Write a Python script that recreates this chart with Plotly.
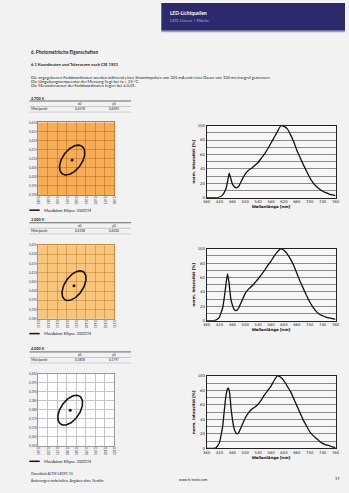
import numpy as np
import plotly.graph_objects as go

W, H = 349, 493

# ---------------- data ----------------
CCT_LABELS = ["2.700 K", "3.000 K", "4.000 K"]
X0_VALUES = [0.4578, 0.4338, 0.3818]
Y0_VALUES = [0.4093, 0.4030, 0.3797]
X_TICK_START = [0.440, 0.415, 0.365]
Y_TICK_START = [0.390, 0.385, 0.360]
TICK_STEP = 0.005
N_TICKS = 9
# MacAdam ellipse (3 SDCM) parameters: semi axes and rotation
ELLIPSE_A = [0.0092, 0.0090, 0.0092]
ELLIPSE_B = [0.0052, 0.0049, 0.0051]
ELLIPSE_THETA_DEG = [57, 58, 58]

WL_1 = [380, 400, 410, 420, 430, 440, 445, 450, 455, 460, 465, 470, 475, 480, 490,
        500, 510, 520, 530, 540, 550, 560, 570, 580, 590, 600, 610, 620, 630, 640,
        650, 660, 670, 680, 690, 700, 710, 720, 730, 740, 750, 760, 770, 780]
INT_1 = [0, 0, 0, 1, 4, 12, 22, 34, 27, 19, 16, 14, 14, 16, 25,
         33, 38, 41, 45, 49, 55, 61, 68, 76, 84, 92, 100, 99, 96, 88,
         78, 66, 56, 46, 37, 28, 21, 16, 12, 9, 7, 5, 4, 3]

WL_2 = [380, 400, 410, 420, 430, 435, 440, 445, 450, 455, 460, 465, 470, 475, 480,
        490, 500, 510, 520, 530, 540, 550, 560, 570, 580, 590, 600, 610, 620, 630,
        640, 650, 660, 670, 680, 690, 700, 710, 720, 730, 740, 750, 760, 770, 780]
INT_2 = [0, 0, 1, 5, 18, 32, 50, 65, 52, 31, 22, 16, 14, 15, 18,
         28, 38, 44, 48, 53, 58, 64, 70, 77, 83, 90, 96, 100, 98, 93,
         86, 77, 66, 55, 45, 35, 26, 19, 13, 9, 7, 5, 4, 3, 2]

WL_3 = [380, 400, 410, 420, 430, 435, 440, 445, 448, 452, 456, 460, 465, 470, 475,
        480, 490, 500, 510, 520, 530, 540, 550, 560, 570, 580, 590, 600, 610, 620,
        630, 640, 650, 660, 670, 680, 690, 700, 710, 720, 730, 740, 750, 760, 770, 780]
INT_3 = [0, 0, 1, 8, 30, 52, 72, 82, 83, 75, 55, 41, 28, 22, 20,
         22, 32, 42, 49, 54, 57, 61, 67, 74, 80, 86, 94, 100, 98, 93,
         86, 79, 69, 59, 49, 39, 31, 23, 18, 14, 10, 7, 5, 4, 2, 1]

SPEC_WL = [WL_1, WL_2, WL_3]
SPEC_INT = [INT_1, INT_2, INT_3]
SPEC_XTICKS = [380, 420, 460, 500, 540, 580, 620, 660, 700, 740, 780]

# ---------------- styling / layout geometry ----------------
BG = "#F2F2F2"
FONT = "Lato"
def px(x): return x / W
def py(y): return 1 - y / H

CHROMA_X = (35, 113)
CHROMA_Y = [(120.7, 194), (244.7, 319), (374.3, 447.3)]
SPEC_X = (207.3, 339.3)
SPEC_Y = [(124, 196.7), (248.3, 321), (376.7, 450)]
CHROMA_FILL = ["#F6AD55", "#F8C57A", "#FFFFFF"]
CHROMA_GRID = ["rgba(150,75,0,0.35)", "rgba(150,75,0,0.30)", "#C4C4C4"]
CHROMA_LINE = ["#C97A30", "#D08A40", "#9A9A9A"]
TABLE_T = [96, 219, 349.5]
LEGEND_Y = [209.3, 334, 463]

fig = go.Figure()
shapes = []
annotations = []
layout_axes = {}

def fmt(v):
    return f"{v:.4f}".replace(".", ",")

for i in range(3):
    xa = f"x{2*i+1}" if i > 0 else "x"
    ya = f"y{2*i+1}" if i > 0 else "y"
    xs = f"x{2*i+2}"
    ys = f"y{2*i+2}"

    # chromaticity chart
    xt = [X_TICK_START[i] + k * TICK_STEP for k in range(N_TICKS)]
    yt = [Y_TICK_START[i] + k * TICK_STEP for k in range(N_TICKS)]
    t = np.linspace(0, 2 * np.pi, 200)
    th = np.deg2rad(ELLIPSE_THETA_DEG[i])
    a, b = ELLIPSE_A[i], ELLIPSE_B[i]
    ex = X0_VALUES[i] + a * np.cos(t) * np.cos(th) - b * np.sin(t) * np.sin(th)
    ey = Y0_VALUES[i] + a * np.cos(t) * np.sin(th) + b * np.sin(t) * np.cos(th)
    fig.add_trace(go.Scatter(x=ex, y=ey, mode="lines", xaxis=xa, yaxis=ya,
                             line=dict(color="#1A1010", width=1.6), showlegend=False,
                             hoverinfo="skip"))
    fig.add_trace(go.Scatter(x=[X0_VALUES[i]], y=[Y0_VALUES[i]], mode="markers",
                             xaxis=xa, yaxis=ya, marker=dict(color="#1A1010", size=3),
                             showlegend=False))
    kx = "xaxis" if i == 0 else f"xaxis{2*i+1}"
    ky = "yaxis" if i == 0 else f"yaxis{2*i+1}"
    layout_axes[kx] = dict(domain=[px(CHROMA_X[0]), px(CHROMA_X[1])], anchor=ya,
                           range=[xt[0], xt[-1]], tickvals=xt,
                           ticktext=[f"{v:.3f}".replace(".", ",") for v in xt],
                           tickangle=90, tickfont=dict(size=3, color="#444", family=FONT),
                           showgrid=True, gridcolor=CHROMA_GRID[i], gridwidth=0.7,
                           zeroline=False, showline=True, mirror=True,
                           linecolor=CHROMA_LINE[i], linewidth=0.8, ticks="")
    layout_axes[ky] = dict(domain=[py(CHROMA_Y[i][1]), py(CHROMA_Y[i][0])], anchor=xa,
                           range=[yt[0], yt[-1]], tickvals=yt,
                           ticktext=[f"{v:.3f}".replace(".", ",") for v in yt],
                           tickfont=dict(size=3, color="#444", family=FONT),
                           showgrid=True, gridcolor=CHROMA_GRID[i], gridwidth=0.7,
                           zeroline=False, showline=True, mirror=True,
                           linecolor=CHROMA_LINE[i], linewidth=0.8, ticks="")
    shapes.append(dict(type="rect", xref=f"{xa} domain", yref=f"{ya} domain",
                       x0=0, x1=1, y0=0, y1=1, fillcolor=CHROMA_FILL[i],
                       line=dict(width=0), layer="below"))

    # spectrum chart
    fig.add_trace(go.Scatter(x=SPEC_WL[i], y=SPEC_INT[i], mode="lines",
                             line=dict(color="#111", width=1.3, shape="spline", smoothing=0.3),
                             xaxis=xs, yaxis=ys, showlegend=False))
    layout_axes[f"xaxis{2*i+2}"] = dict(
        domain=[px(SPEC_X[0]), px(SPEC_X[1])], anchor=ys, range=[380, 780],
        tickvals=SPEC_XTICKS, tickfont=dict(size=3.8, color="#222", family="DejaVu Sans"),
        showgrid=False, zeroline=False, showline=True, mirror=True,
        linecolor="#222", linewidth=0.8, ticks="", ticklen=0,
        title=dict(text="<b>Wellenlänge [nm]</b>", standoff=1,
                   font=dict(size=3.9, color="#111", family="DejaVu Sans")))
    layout_axes[f"yaxis{2*i+2}"] = dict(
        domain=[py(SPEC_Y[i][1]), py(SPEC_Y[i][0])], anchor=xs, range=[0, 100],
        dtick=20, tickfont=dict(size=3.8, color="#222", family="DejaVu Sans"),
        showgrid=True, gridcolor="#8A8A8A", gridwidth=0.6,
        minor=dict(dtick=10, showgrid=True, gridcolor="#8A8A8A", gridwidth=0.6),
        zeroline=False, showline=True, mirror=True, linecolor="#222", linewidth=0.8,
        ticks="",
        title=dict(text="<b>norm. Intensität [%]</b>", standoff=2,
                   font=dict(size=3.8, color="#111", family="DejaVu Sans")))

    # table
    T = TABLE_T[i]
    annotations.append(dict(text=f"<b>{CCT_LABELS[i]}</b>", x=px(26), y=py(T),
                            xanchor="left", yanchor="middle", font=dict(size=3.8)))
    shapes.append(dict(type="line", xref="paper", yref="paper", x0=px(26), x1=px(130),
                       y0=py(T + 3), y1=py(T + 3), line=dict(color="#555", width=0.9)))
    annotations.append(dict(text="x0", x=px(78), y=py(T + 6), xanchor="center",
                            yanchor="middle", font=dict(size=3.2)))
    annotations.append(dict(text="y0", x=px(113), y=py(T + 6), xanchor="center",
                            yanchor="middle", font=dict(size=3.2)))
    shapes.append(dict(type="line", xref="paper", yref="paper", x0=px(26), x1=px(130),
                       y0=py(T + 8.6), y1=py(T + 8.6), line=dict(color="#AAA", width=0.6)))
    annotations.append(dict(text="Mittelpunkt", x=px(26), y=py(T + 11.5), xanchor="left",
                            yanchor="middle", font=dict(size=3.2)))
    annotations.append(dict(text=fmt(X0_VALUES[i]), x=px(78), y=py(T + 11.5),
                            xanchor="center", yanchor="middle", font=dict(size=3.2)))
    annotations.append(dict(text=fmt(Y0_VALUES[i]), x=px(113), y=py(T + 11.5),
                            xanchor="center", yanchor="middle", font=dict(size=3.2)))
    shapes.append(dict(type="line", xref="paper", yref="paper", x0=px(26), x1=px(130),
                       y0=py(T + 14.2), y1=py(T + 14.2), line=dict(color="#BBB", width=0.6)))

    # legend
    LY = LEGEND_Y[i]
    shapes.append(dict(type="line", xref="paper", yref="paper", x0=px(26), x1=px(36.5),
                       y0=py(LY), y1=py(LY), line=dict(color="#1A1010", width=1.5)))
    annotations.append(dict(text="MacAdam Ellipse 3SDCM", x=px(38.5), y=py(LY),
                            xanchor="left", yanchor="middle", font=dict(size=4.2)))

# header bar
shapes.append(dict(type="rect", xref="paper", yref="paper", x0=px(161), x1=1,
                   y0=py(28), y1=1, fillcolor="#2D2A6C", line=dict(width=0), layer="below"))
shapes.append(dict(type="rect", xref="paper", yref="paper", x0=px(161), x1=1,
                   y0=py(29.5), y1=py(28), fillcolor="#9C9AC8", line=dict(width=0), layer="below"))
annotations.append(dict(text="<b>LED-Lichtquellen</b>", x=px(168), y=py(10),
                        xanchor="left", yanchor="middle",
                        font=dict(size=4.8, color="#FFFFFF")))
annotations.append(dict(text="LED Linear / Fläche", x=px(168), y=py(17.5),
                        xanchor="left", yanchor="middle",
                        font=dict(size=4.6, color="#A9A6D8")))

# section texts
annotations.append(dict(text="<b>6. Photometrische Eigenschaften</b>", x=px(26), y=py(49.3),
                        xanchor="left", yanchor="middle", font=dict(size=4.6)))
annotations.append(dict(text="<b>6.1 Koordinaten und Toleranzen nach CIE 1931</b>", x=px(26),
                        y=py(61.8), xanchor="left", yanchor="middle", font=dict(size=4.2)))
BODY = [
    "Die angegebenen Farbkoordinaten werden während eines Stromimpulses von 325 mA und einer Dauer von 100 ms integral gemessen.",
    "Die Umgebungstemperatur der Messung liegt bei ta = 25 °C.",
    "Die Messtoleranzen der Farbkoordinaten liegen bei ± 0,01.",
]
for k, line in enumerate(BODY):
    annotations.append(dict(text=line, x=px(26), y=py(74.8 + 4.3 * k), xanchor="left",
                            yanchor="middle", font=dict(size=4.1)))

# footer
annotations.append(dict(text="Datenblatt ALTM-LEDF1-15", x=px(26), y=py(475.8),
                        xanchor="left", yanchor="middle", font=dict(size=3.4)))
annotations.append(dict(text="Änderungen vorbehalten. Angaben ohne Gewähr.", x=px(26),
                        y=py(482.3), xanchor="left", yanchor="middle", font=dict(size=3.4)))
annotations.append(dict(text="www.fs-tronic.com", x=px(177), y=py(482.3), xanchor="left",
                        yanchor="middle", font=dict(size=3.4)))
annotations.append(dict(text="19", x=px(345), y=py(480.3), xanchor="right",
                        yanchor="middle", font=dict(size=3.8)))

for an in annotations:
    an.setdefault("xref", "paper")
    an.setdefault("yref", "paper")
    an["showarrow"] = False
    an["font"].setdefault("color", "#1E1E1E")
    an["font"].setdefault("family", FONT)

fig.update_layout(
    width=W, height=H, margin=dict(l=0, r=0, t=0, b=0),
    paper_bgcolor=BG, plot_bgcolor="#F7F7F7",
    font=dict(family=FONT, color="#1E1E1E"),
    shapes=shapes, annotations=annotations, showlegend=False,
    **layout_axes,
)

fig.write_html("out.html", config={"displayModeBar": False})
